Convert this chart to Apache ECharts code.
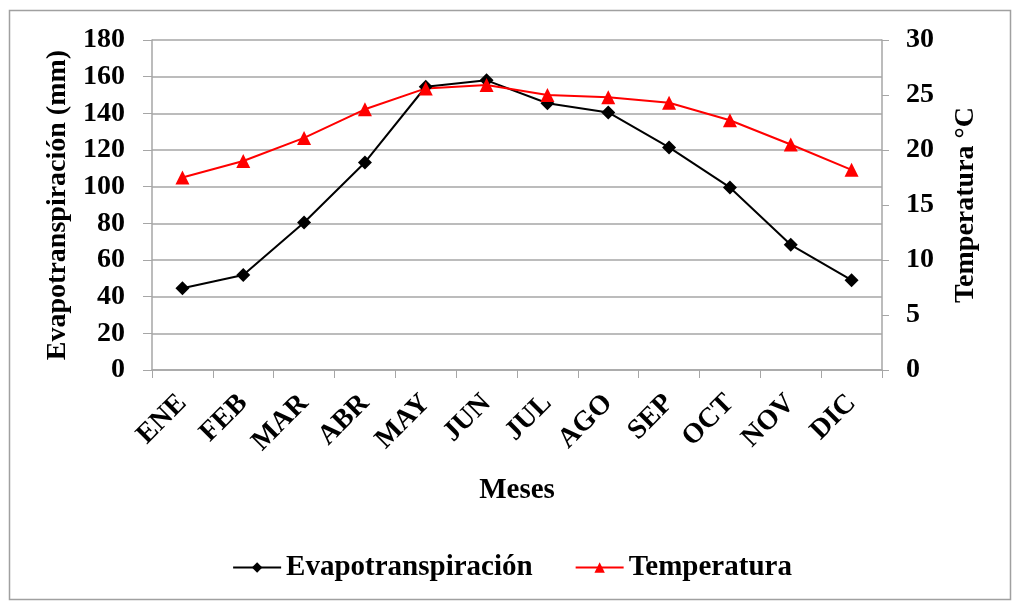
<!DOCTYPE html>
<html style="height: 100%">
<head>
    <meta charset="utf-8">
    <title>Evapotranspiración y temperatura</title>
    <script src="https://cdn.jsdelivr.net/npm/echarts@6/dist/echarts.min.js"></script>
</head>
<body style="height: 100%; margin: 0; background: #fff">
<div id="container" style="width: 1024px; height: 613px"></div>
<script type="text/javascript">
    var meses = ['ENE', 'FEB', 'MAR', 'ABR', 'MAY', 'JUN', 'JUL', 'AGO', 'SEP', 'OCT', 'NOV', 'DIC'];
    var evapotranspiracion = [44.6, 51.8, 80.5, 113.2, 154.5, 158, 145.5, 140.5, 121.4, 99.6, 68.3, 49];
    var temperatura = [17.5, 19.0, 21.1, 23.7, 25.6, 25.9, 25.0, 24.8, 24.3, 22.7, 20.5, 18.2];

    var font = 'Liberation Serif';
    var grey = '#a6a6a6';
    var myChart = echarts.init(document.getElementById('container'));

    var option = {
        backgroundColor: '#fff',
        animation: false,
        textStyle: {fontFamily: font},
        graphic: [{
            type: 'rect',
            shape: {x: 9.5, y: 10.5, width: 1001, height: 589},
            style: {fill: 'none', stroke: '#a0a0a0', lineWidth: 1.5},
            silent: true
        }],
        grid: {left: 152, right: 142, top: 40, bottom: 243},
        legend: {
            bottom: 26,
            left: 'center',
            itemGap: 42,
            itemWidth: 48,
            itemHeight: 13,
            textStyle: {fontFamily: font, fontWeight: 'bold', fontSize: 29, color: '#000'},
            data: ['Evapotranspiración', 'Temperatura']
        },
        xAxis: {
            type: 'category',
            data: meses,
            name: 'Meses',
            nameLocation: 'middle',
            nameGap: 106,
            nameTextStyle: {fontFamily: font, fontWeight: 'bold', fontSize: 29, color: '#000'},
            axisLine: {lineStyle: {color: grey, width: 1.5}},
            axisTick: {show: true, interval: 0, length: 8, lineStyle: {color: grey}},
            axisLabel: {rotate: 45, interval: 0, margin: 29, fontFamily: font, fontWeight: 'bold', fontSize: 28, color: '#000'}
        },
        yAxis: [{
            type: 'value',
            min: 0,
            max: 180,
            interval: 20,
            name: 'Evapotranspiración (mm)',
            nameLocation: 'middle',
            nameRotate: 90,
            nameGap: 77,
            nameTextStyle: {fontFamily: font, fontWeight: 'bold', fontSize: 28, color: '#000'},
            axisLine: {show: true, lineStyle: {color: grey, width: 1.5}},
            axisTick: {show: true, length: 9, lineStyle: {color: grey}},
            axisLabel: {margin: 27, fontFamily: font, fontWeight: 'bold', fontSize: 28, color: '#000'},
            splitLine: {show: true, lineStyle: {color: grey, width: 1.5}}
        }, {
            type: 'value',
            min: 0,
            max: 30,
            interval: 5,
            name: 'Temperatura °C',
            nameLocation: 'middle',
            nameRotate: 90,
            nameGap: 70,
            nameTextStyle: {fontFamily: font, fontWeight: 'bold', fontSize: 28, color: '#000'},
            axisLine: {show: true, lineStyle: {color: grey, width: 1.5}},
            axisTick: {show: true, length: 7, lineStyle: {color: grey}},
            axisLabel: {margin: 24, fontFamily: font, fontWeight: 'bold', fontSize: 28, color: '#000'},
            splitLine: {show: false}
        }],
        series: [{
            name: 'Evapotranspiración',
            type: 'line',
            yAxisIndex: 0,
            data: evapotranspiracion,
            symbol: 'diamond',
            symbolSize: 14,
            lineStyle: {color: '#000', width: 2},
            itemStyle: {color: '#000'}
        }, {
            name: 'Temperatura',
            type: 'line',
            yAxisIndex: 1,
            data: temperatura,
            symbol: 'triangle',
            symbolSize: 14,
            lineStyle: {color: '#ff0000', width: 2},
            itemStyle: {color: '#ff0000'}
        }]
    };
    myChart.setOption(option, true);
</script>
</body>
</html>
